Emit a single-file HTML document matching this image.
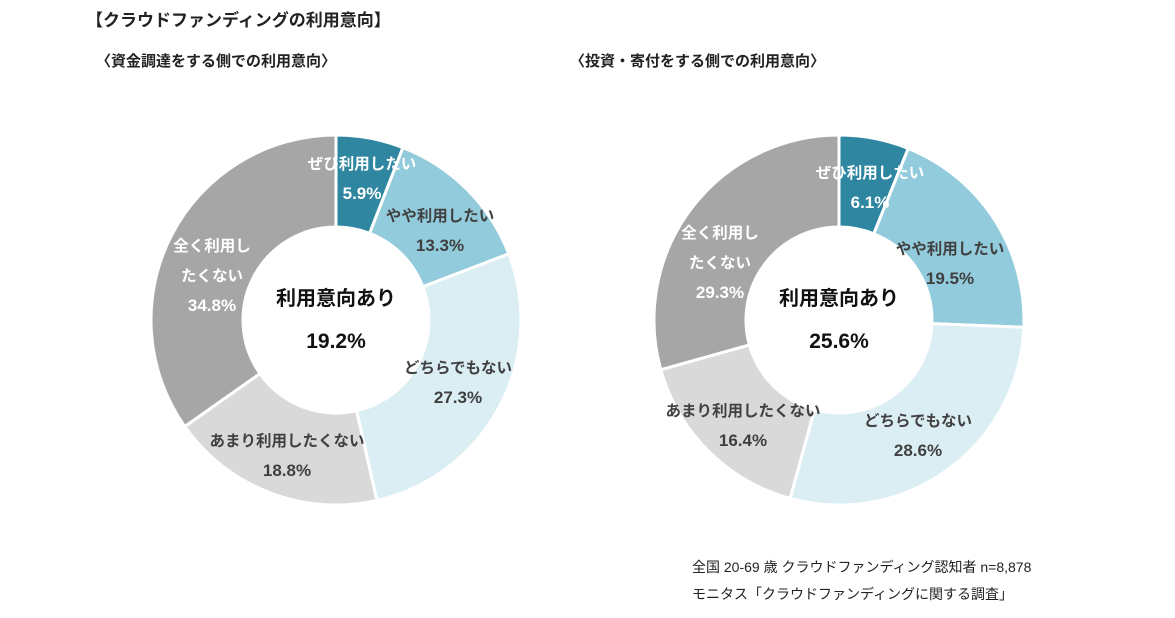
<!DOCTYPE html>
<html><head><meta charset="utf-8"><style>
body{margin:0;background:#fff;width:1175px;height:618px;overflow:hidden;font-family:"Liberation Sans","Noto Sans CJK JP",sans-serif}
svg{position:absolute;left:0;top:0}
</style></head><body>
<svg width="1175" height="618">
<text x="86" y="26" font-size="17" font-weight="bold" fill="#222">【クラウドファンディングの利用意向】</text>
<text x="96" y="66" font-size="15" font-weight="bold" fill="#222">〈資金調達をする側での利用意向〉</text>
<text x="570" y="66" font-size="15" font-weight="bold" fill="#222">〈投資・寄付をする側での利用意向〉</text>
<g id="left"></g><g id="right"></g>
<text x="692" y="572" font-size="14" fill="#222">全国 20-69 歳  クラウドファンディング認知者  n=8,878</text>
<text x="692" y="599" font-size="14" fill="#222">モニタス「クラウドファンディングに関する調査」</text>
</svg>
<script>
const categories=["ぜひ利用したい","やや利用したい","どちらでもない","あまり利用したくない","全く利用したくない"];
const leftValues=[5.9,13.3,27.3,18.8,34.8];
const rightValues=[6.1,19.5,28.6,16.4,29.3];
const leftCenterValue="19.2%";
const rightCenterValue="25.6%";
const colors=["#2e86a0","#92cbdc","#daeef4","#d9d9d9","#a6a6a6"];
const textColors=["#fff","#404040","#404040","#404040","#fff"];
const NS="http://www.w3.org/2000/svg";
// label anchor offsets from donut center (first line baseline)
const leftLabelPos=[[26,-151],[104,-99],[122,53],[-49,126],[-124,-69]];
const rightLabelPos=[[31,-142],[111,-66],[79,106],[-96,96],[-119,-82]];
function donut(gid,cx,cy,values,center,labelLines,side,lpos){
  const g=document.getElementById(gid);
  const R=185,r=93;const total=values.reduce((a,b)=>a+b,0);
  let a0=0;
  values.forEach((v,i)=>{
    const a1=a0+v/total*Math.PI*2;
    const p=(a,rad)=>[cx+rad*Math.sin(a),cy-rad*Math.cos(a)];
    const [x1,y1]=p(a0,R),[x2,y2]=p(a1,R),[x3,y3]=p(a1,r),[x4,y4]=p(a0,r);
    const lg=(a1-a0)>Math.PI?1:0;
    const path=document.createElementNS(NS,"path");
    path.setAttribute("d",`M${x1},${y1}A${R},${R} 0 ${lg} 1 ${x2},${y2}L${x3},${y3}A${r},${r} 0 ${lg} 0 ${x4},${y4}Z`);
    path.setAttribute("fill",colors[i]);path.setAttribute("stroke","#fff");path.setAttribute("stroke-width","3");
    
    
    g.appendChild(path);
    a0=a1;
  });
  values.forEach((v,i)=>{
    const lx=cx+lpos[i][0], ly=cy+lpos[i][1];
    const lines=labelLines[i].concat([v.toFixed(1)+"%"]);
    const h=30;
    lines.forEach((t,k)=>{
      const tx=document.createElementNS(NS,"text");
      tx.setAttribute("x",lx);tx.setAttribute("y",ly+k*h);tx.setAttribute("text-anchor","middle");
      tx.setAttribute("font-size",k==lines.length-1?"17":"15.5");tx.setAttribute("font-weight","bold");
      tx.setAttribute("fill",textColors[i]);tx.textContent=t;
      
      
      g.appendChild(tx);
    });
  });
  const t1=document.createElementNS(NS,"text");
  t1.setAttribute("x",cx);t1.setAttribute("y",cy-15);t1.setAttribute("text-anchor","middle");
  t1.setAttribute("font-size","20");t1.setAttribute("font-weight","bold");t1.setAttribute("fill","#111");t1.textContent="利用意向あり";
  
  
  g.appendChild(t1);
  const t2=document.createElementNS(NS,"text");
  t2.setAttribute("x",cx);t2.setAttribute("y",cy+28);t2.setAttribute("text-anchor","middle");
  t2.setAttribute("font-size","21");t2.setAttribute("font-weight","bold");t2.setAttribute("fill","#111");t2.textContent=center;
  
  
  g.appendChild(t2);
}
const lblL=[["ぜひ利用したい"],["やや利用したい"],["どちらでもない"],["あまり利用したくない"],["全く利用し","たくない"]];
donut("left",336,320,leftValues,leftCenterValue,lblL,"left",leftLabelPos);
donut("right",839,320,rightValues,rightCenterValue,lblL,"right",rightLabelPos);
</script>
</body></html>
